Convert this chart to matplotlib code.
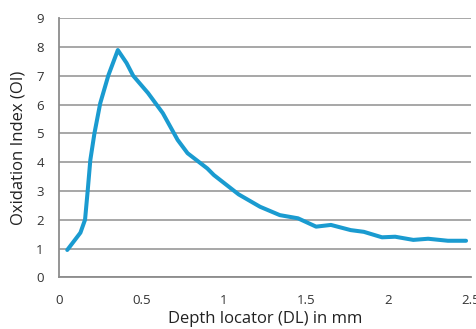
import numpy as np
import matplotlib.pyplot as plt

depth = [0.05, 0.13, 0.158, 0.174, 0.19, 0.215, 0.25, 0.30, 0.357, 0.41, 0.45, 0.54,
         0.63, 0.72, 0.78, 0.90, 0.94, 1.09, 1.22, 1.34, 1.45, 1.56, 1.65, 1.77,
         1.85, 1.96, 2.04, 2.15, 2.24, 2.36, 2.47]
oxidation = [0.95, 1.55, 2.0, 3.0, 4.07, 5.0, 6.04, 7.02, 7.89, 7.44, 7.0, 6.4,
             5.7, 4.77, 4.31, 3.78, 3.55, 2.88, 2.45, 2.16, 2.05, 1.76, 1.82, 1.64,
             1.58, 1.39, 1.41, 1.30, 1.34, 1.27, 1.27]

plt.rcParams['font.family'] = ['Open Sans', 'DejaVu Sans']

fig = plt.figure(figsize=(4.77, 3.29), dpi=100)
ax = fig.add_axes([0.1237, 0.157, 0.8637, 0.788])
ax.plot(depth, oxidation, color="#1a9bd0", lw=2.9, solid_joinstyle="round",
        solid_capstyle="round", zorder=3)

ax.set_xlim(0, 2.5)
ax.set_ylim(0, 9)
ax.set_xticks([0, 0.5, 1, 1.5, 2, 2.5])
ax.set_xticklabels(["0", "0.5", "1", "1.5", "2", "2.5"])
ax.set_yticks(range(10))
ax.tick_params(length=0, labelsize=9.5, colors="#333333")
ax.tick_params(axis="x", pad=12)
ax.tick_params(axis="y", pad=11)
ax.grid(axis="y", color="#a0a0a0", lw=1.3)
for s in ["top", "right"]:
    ax.spines[s].set_visible(False)
for s in ["left", "bottom"]:
    ax.spines[s].set_color("#8c8c8c")
    ax.spines[s].set_linewidth(1.3)
ax.set_xlabel("Depth locator (DL) in mm", fontsize=12, color="#222222", labelpad=3)
ax.set_ylabel("Oxidation Index (OI)", fontsize=12, color="#222222", labelpad=7)

fig.savefig("out.png")
